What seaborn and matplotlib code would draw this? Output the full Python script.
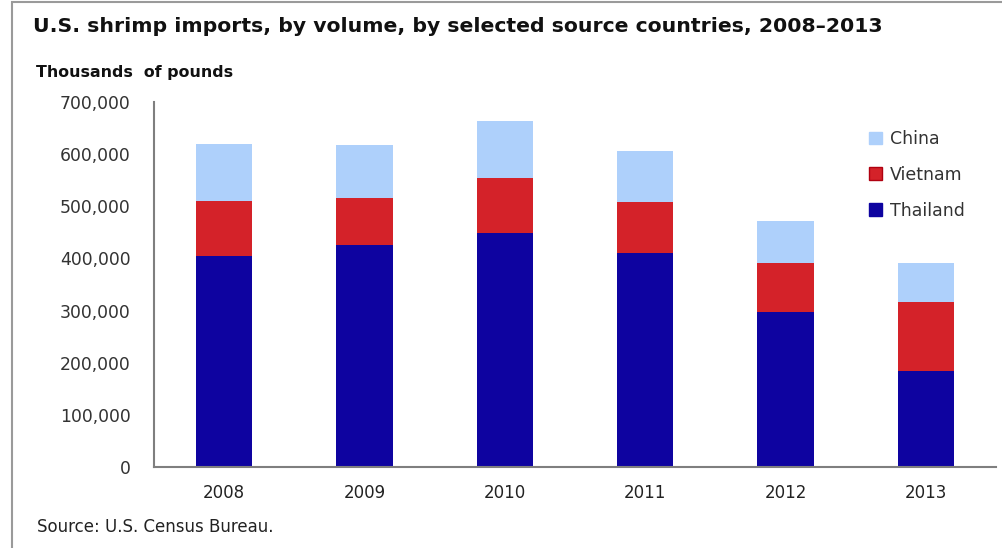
import matplotlib
matplotlib.use("Agg")
import matplotlib.pyplot as plt
import seaborn as sns
import pandas as pd
import numpy as np
from matplotlib.patches import Rectangle, Patch
from matplotlib.ticker import FuncFormatter

years = ["2008", "2009", "2010", "2011", "2012", "2013"]
thailand = [405000, 425000, 448000, 410000, 298000, 185000]
vietnam = [105000, 91000, 107000, 99000, 93000, 132000]
china = [109000, 101000, 109000, 97000, 81000, 74000]
yticks = [0, 100000, 200000, 300000, 400000, 500000, 600000, 700000]

title = "U.S. shrimp imports, by volume, by selected source countries, 2008\u20132013"
ylabel = "Thousands  of pounds"
source = "Source: U.S. Census Bureau."

c_thai = "#0e03a0"
c_viet = "#d42229"
c_china = "#aed0fb"

sns.set_style("white")
plt.rcParams["font.family"] = ["DejaVu Sans"]

df = pd.DataFrame({"year": years, "Thailand": thailand, "Vietnam": vietnam, "China": china})
df["tv"] = df["Thailand"] + df["Vietnam"]
df["total"] = df["tv"] + df["China"]

fig = plt.figure(figsize=(10.03, 5.48), dpi=100)
ax = fig.add_axes([154/1003, 1-467/548, (996-154)/1003, (467-102)/548])

sns.barplot(data=df, x="year", y="total", color=c_china, width=0.4, ax=ax, saturation=1, linewidth=0)
sns.barplot(data=df, x="year", y="tv", color=c_viet, width=0.4, ax=ax, saturation=1, linewidth=0)
sns.barplot(data=df, x="year", y="Thailand", color=c_thai, width=0.4, ax=ax, saturation=1, linewidth=0)

ax.set_ylim(0, 700000)
ax.set_xlim(-0.5, 5.5)
ax.set_yticks(yticks)
ax.yaxis.set_major_formatter(FuncFormatter(lambda v, p: f"{int(v):,}"))
ax.set_xlabel("")
ax.set_ylabel("")
for s in ["top", "right"]:
    ax.spines[s].set_visible(False)
for s in ["left", "bottom"]:
    ax.spines[s].set_color("#7f7f7f")
    ax.spines[s].set_linewidth(1.5)
ax.tick_params(axis="y", direction="in", length=6, width=1, color="#7f7f7f", pad=17,
               labelsize=12.4, labelcolor="#333333")
ax.tick_params(axis="x", direction="in", length=4, width=1, color="#7f7f7f", pad=12.5,
               labelsize=12, labelcolor="#222222")

handles = [Patch(facecolor=c_china, edgecolor=c_china, label="China"),
           Patch(facecolor=c_viet, edgecolor="#b00010", label="Vietnam"),
           Patch(facecolor=c_thai, edgecolor=c_thai, label="Thailand")]
leg = ax.legend(handles=handles, frameon=False, loc="upper left",
                bbox_to_anchor=((862-154)/(996-154), (467-123)/(467-102)),
                handlelength=0.75, handleheight=0.75, handletextpad=0.45,
                labelspacing=1.03, fontsize=12.5, borderaxespad=0)
for t in leg.get_texts():
    t.set_color("#333333")

fig.text(33/1003, 1-27/548, title, fontsize=14.7, fontweight="bold", va="center", ha="left",
         color="#111111")
fig.text(36/1003, 1-72/548, ylabel, fontsize=11.4, fontweight="bold", va="center", ha="left",
         color="#111111")
fig.text(37/1003, 1-527/548, source, fontsize=12, va="center", ha="left",
         color="#222222")

fig.patches.append(Rectangle((12/1003, -0.01), 1.0, 1-2/548+0.01, transform=fig.transFigure,
                             fill=False, edgecolor="#9a9a9a", linewidth=1.5))

fig.savefig("out.png", dpi=100)
